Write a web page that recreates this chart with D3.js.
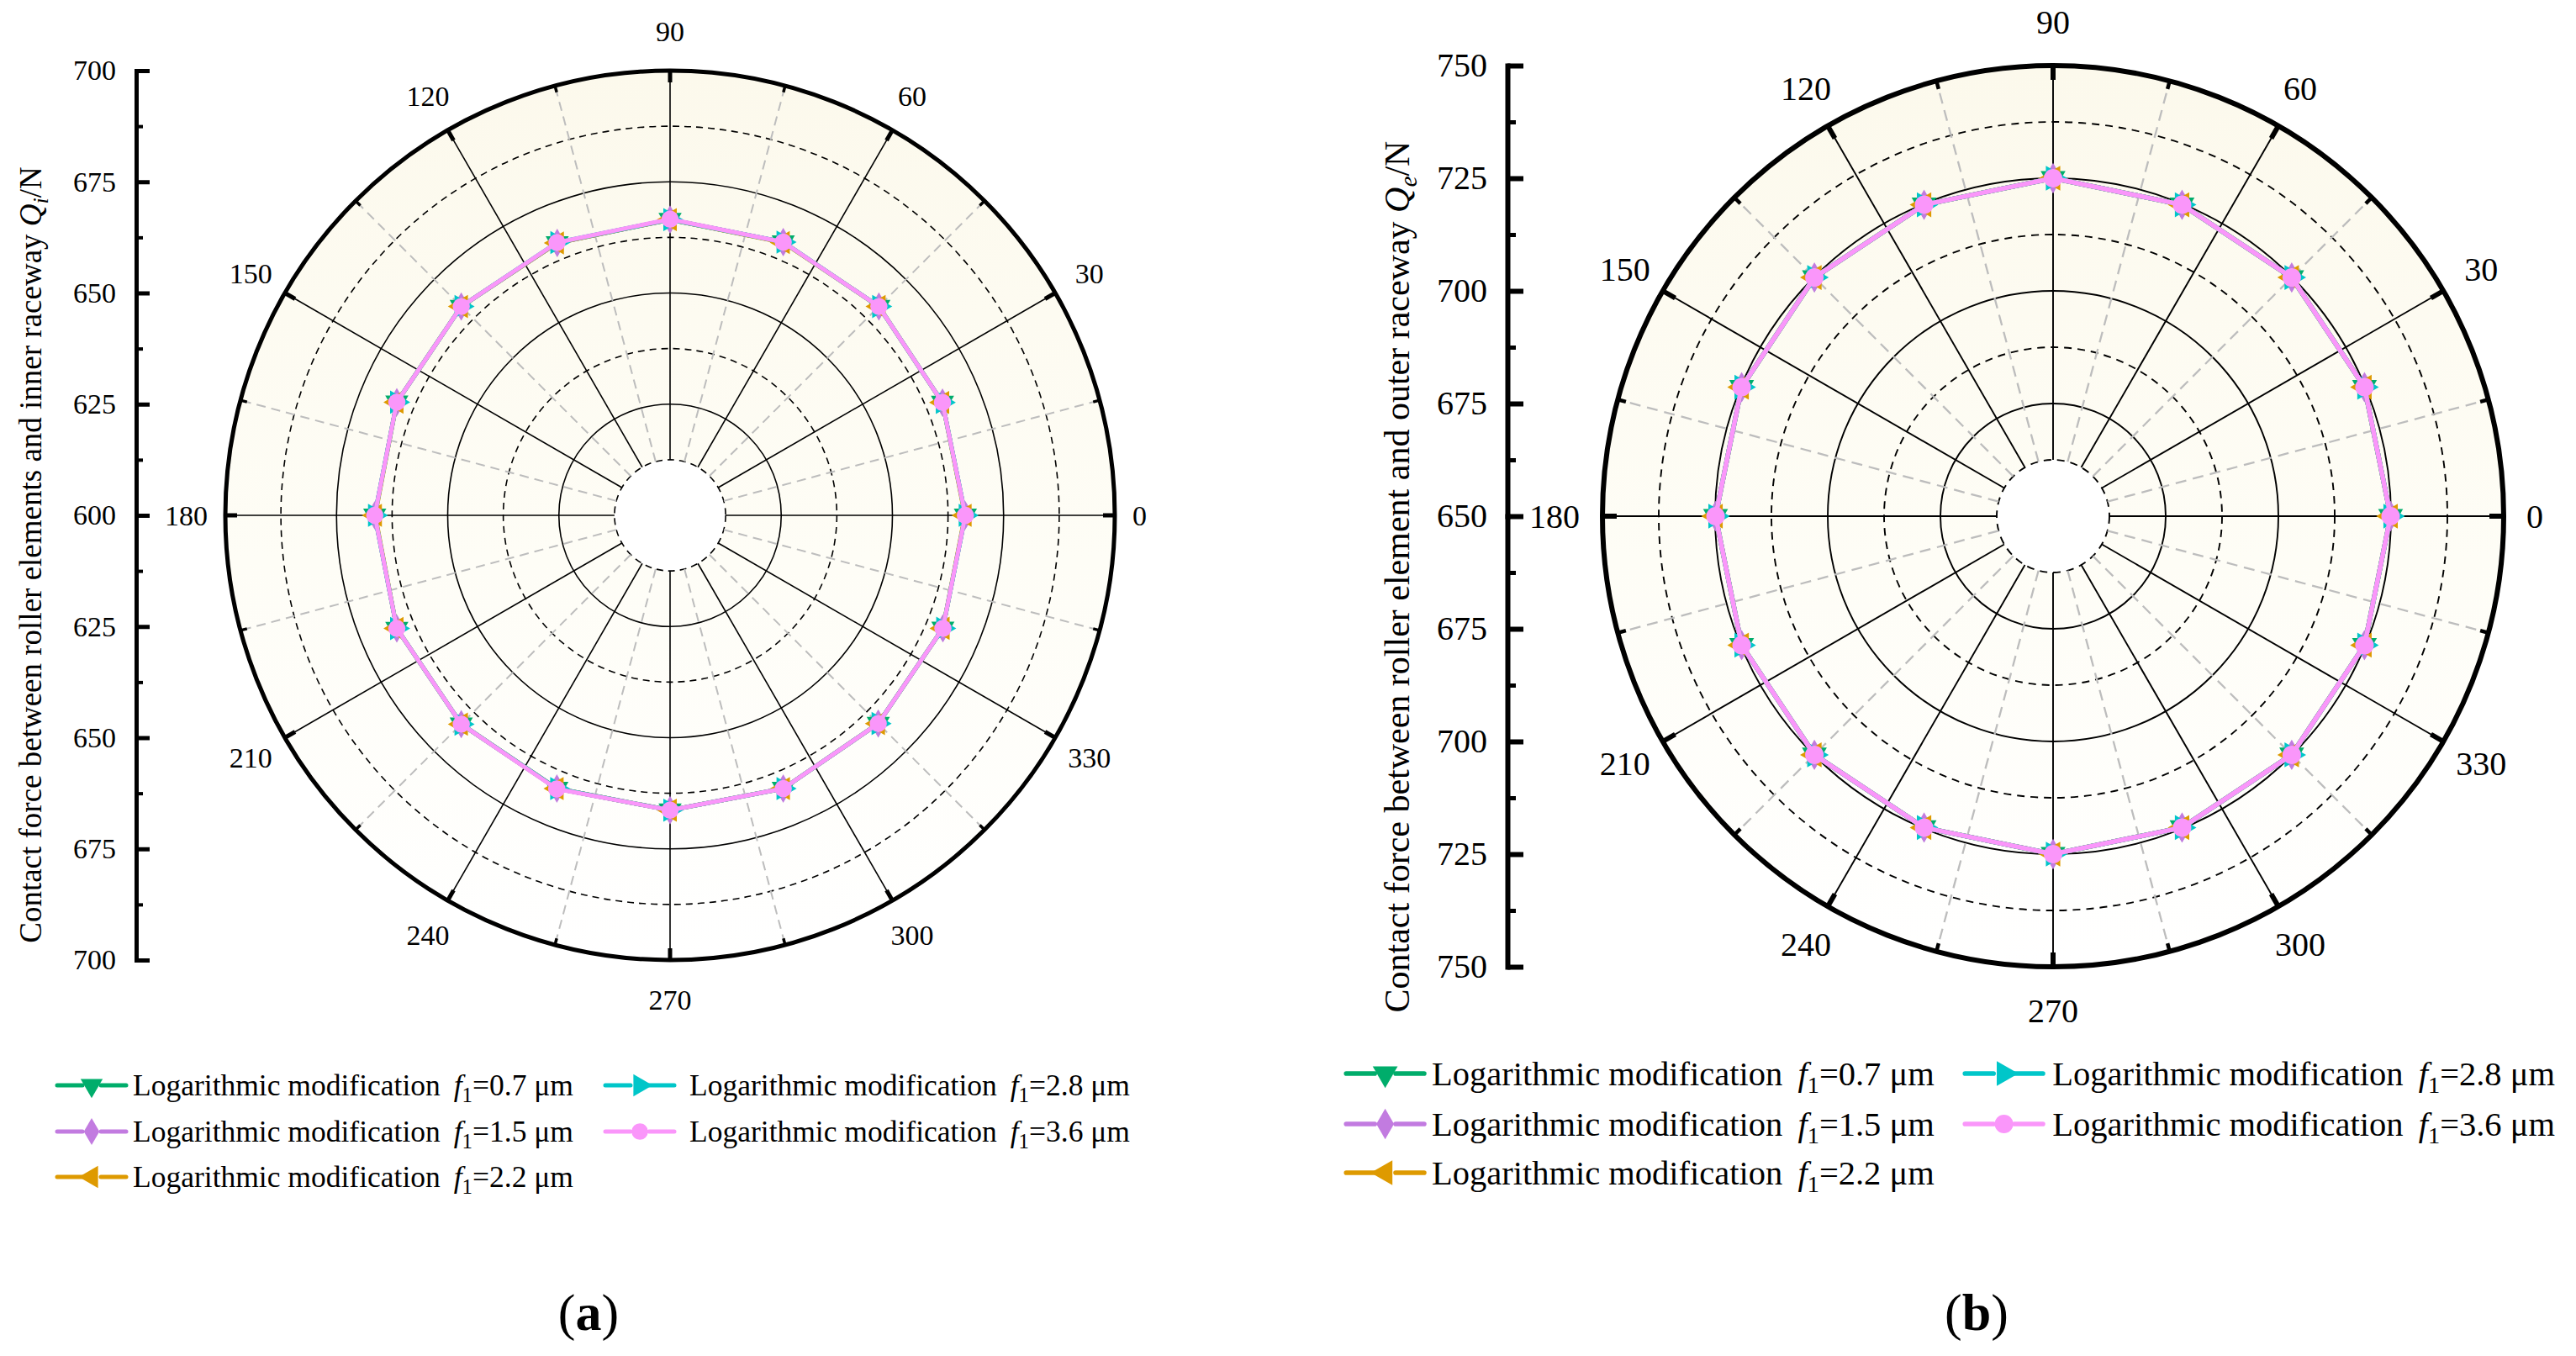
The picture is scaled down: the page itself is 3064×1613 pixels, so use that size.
<!DOCTYPE html>
<html>
<head>
<meta charset="utf-8">
<script src="https://cdn.jsdelivr.net/npm/d3@7"></script>
<style>
  body { margin: 0; background: #fff; }
  svg { display: block; }
  text { font-family: "Liberation Serif", "Times New Roman", serif; fill: #000; }
</style>
</head>
<body>
<div class="figure"></div>
<script>
// roller positions (deg) and polar axis labels
const angles = [0, 22.5, 45, 67.5, 90, 112.5, 135, 157.5, 180, 202.5, 225, 247.5, 270, 292.5, 315, 337.5];
const angleTicks = [0, 30, 60, 90, 120, 150, 180, 210, 240, 270, 300, 330];
const crownings = ['0.7', '1.5', '2.2', '2.8', '3.6'];
const innerTicks = [600, 625, 650, 675, 700];
const outerTicks = [650, 675, 700, 725, 750];

// (a) roller / inner raceway contact force, N
const innerF07 = [666.4, 666.3, 666.4, 666.5, 666.5, 666.3, 666.4, 666.5, 666.4, 666.5, 666.4, 666.5, 666.3, 666.5, 666.2, 666.4];
const innerF15 = [666.4, 666.3, 666.4, 666.5, 666.5, 666.3, 666.4, 666.5, 666.4, 666.5, 666.4, 666.5, 666.3, 666.5, 666.2, 666.4];
const innerF22 = [666.3, 666.3, 666.4, 666.4, 666.5, 666.3, 666.4, 666.5, 666.3, 666.5, 666.4, 666.5, 666.3, 666.5, 666.2, 666.4];
const innerF28 = [666.4, 666.3, 666.4, 666.5, 666.5, 666.4, 666.4, 666.5, 666.4, 666.5, 666.4, 666.5, 666.3, 666.5, 666.2, 666.4];
const innerF36 = [666.4, 666.3, 666.4, 666.5, 666.6, 666.4, 666.4, 666.5, 666.4, 666.5, 666.4, 666.6, 666.3, 666.5, 666.2, 666.4];

// (b) roller / outer raceway contact force, N
const outerF07 = [724.9, 724.8, 724.9, 724.8, 725.0, 724.8, 724.9, 724.8, 724.9, 724.8, 724.9, 724.8, 725.0, 724.8, 724.9, 724.8];
const outerF15 = [724.9, 724.8, 724.9, 724.8, 725.0, 724.8, 724.9, 724.8, 724.9, 724.8, 724.9, 724.8, 725.0, 724.8, 724.9, 724.8];
const outerF22 = [724.9, 724.8, 724.9, 724.8, 725.0, 724.8, 724.9, 724.8, 724.9, 724.8, 724.9, 724.8, 725.0, 724.8, 724.9, 724.8];
const outerF28 = [724.9, 724.8, 724.9, 724.8, 725.0, 724.8, 724.9, 724.8, 724.9, 724.8, 724.9, 724.8, 725.0, 724.8, 724.9, 724.8];
const outerF36 = [724.9, 724.8, 724.9, 724.8, 725.0, 724.8, 724.9, 724.8, 724.9, 724.8, 724.9, 724.8, 725.0, 724.8, 724.9, 724.8];

const colors = ['#00ad6b', '#c27be0', '#de9a00', '#00c6c9', '#fa96fa'];
const symbols = [
  { type: d3.symbolTriangle, rot: 180 },
  { type: d3.symbolDiamond, rot: 0 },
  { type: d3.symbolTriangle, rot: -90 },
  { type: d3.symbolTriangle, rot: 90 },
  { type: d3.symbolCircle, rot: 0 }
];

const W = 3064;
const H = 1613;

const svg = d3.select('.figure')
  .append('svg')
  .attr('width', W)
  .attr('height', H);

const defs = svg.append('defs');

function drawPolar(o) {
  const grad = defs.append('linearGradient')
    .attr('id', o.id + '-bg')
    .attr('x1', 0).attr('y1', 0).attr('x2', 0).attr('y2', 1);
  grad.append('stop').attr('offset', '0%').attr('stop-color', '#fcf9ec');
  grad.append('stop').attr('offset', '55%').attr('stop-color', '#fefdf6');
  grad.append('stop').attr('offset', '100%').attr('stop-color', '#ffffff');

  const r = d3.scaleLinear().domain(o.domain).range([0, o.R]);
  const a = d3.scaleLinear().domain([0, 360]).range([0, 2 * Math.PI]);
  const step = (o.domain[1] - o.domain[0]) / 8;
  const hole = r(o.domain[0] + step);
  const xy = (deg, rad) => [rad * Math.cos(a(deg)), -rad * Math.sin(a(deg))];

  const g = svg.append('g').attr('transform', `translate(${o.cx},${o.cy})`);

  g.append('path')
    .attr('d', d3.arc()({ innerRadius: hole, outerRadius: o.R, startAngle: 0, endAngle: 2 * Math.PI }))
    .attr('fill', `url(#${o.id}-bg)`);

  // grid circles: solid every 25 N, dashed in between
  const rings = d3.range(1, 8).map((k) => o.domain[0] + k * step);
  g.selectAll('.ring')
    .data(rings)
    .join('circle')
    .attr('r', (d) => r(d))
    .attr('fill', 'none')
    .attr('stroke', '#000')
    .attr('stroke-width', o.gridW)
    .attr('stroke-dasharray', (d, i) => (i % 2 === 0 ? o.dash : null));

  // spokes
  const spokes = d3.range(0, 360, 15);
  g.selectAll('.spoke')
    .data(spokes)
    .join('line')
    .attr('x1', (d) => xy(d, hole)[0])
    .attr('y1', (d) => xy(d, hole)[1])
    .attr('x2', (d) => xy(d, o.R)[0])
    .attr('y2', (d) => xy(d, o.R)[1])
    .attr('stroke', (d) => (d % 30 === 0 ? '#000' : '#bdbdbd'))
    .attr('stroke-width', (d) => (d % 30 === 0 ? o.gridW : o.gridW + 0.4))
    .attr('stroke-dasharray', (d) => (d % 30 === 0 ? null : o.grayDash));

  // outer ring and its ticks
  g.append('circle')
    .attr('r', o.R)
    .attr('fill', 'none')
    .attr('stroke', '#000')
    .attr('stroke-width', o.outerW);

  g.selectAll('.rtick')
    .data(spokes)
    .join('line')
    .attr('x1', (d) => xy(d, o.R - (d % 30 === 0 ? o.major - 2 : o.minor))[0])
    .attr('y1', (d) => xy(d, o.R - (d % 30 === 0 ? o.major - 2 : o.minor))[1])
    .attr('x2', (d) => xy(d, o.R)[0])
    .attr('y2', (d) => xy(d, o.R)[1])
    .attr('stroke', '#000')
    .attr('stroke-width', (d) => (d % 30 === 0 ? o.outerW : o.outerW - 1.5));

  // angle labels
  g.selectAll('.alabel')
    .data(angleTicks)
    .join('text')
    .attr('x', (d) => {
      if (d === 0) return o.R + o.gap;
      if (d === 180) return -o.R - o.gap;
      return xy(d, o.R + o.labelOff)[0];
    })
    .attr('y', (d) => xy(d, o.R + o.labelOff)[1] * (d === 0 || d === 180 ? 0 : 1))
    .attr('dy', '0.35em')
    .attr('text-anchor', (d) => (d === 0 ? 'start' : d === 180 ? 'end' : 'middle'))
    .attr('font-size', o.font)
    .text((d) => d);

  // series
  const line = d3.lineRadial()
    .angle((d) => Math.PI / 2 - a(d.angle))
    .radius((d) => r(d.value))
    .curve(d3.curveLinearClosed);

  o.series.forEach((values, i) => {
    const pts = angles.map((ang, j) => ({ angle: ang, value: values[j] }));
    g.append('path')
      .datum(pts)
      .attr('d', line)
      .attr('fill', 'none')
      .attr('stroke', colors[i])
      .attr('stroke-width', o.lineW)
      .attr('stroke-linejoin', 'round');
    g.selectAll('.m' + i)
      .data(pts)
      .join('path')
      .attr('transform', (d) => {
        const p = xy(d.angle, r(d.value));
        return `translate(${p[0]},${p[1]}) rotate(${symbols[i].rot})`;
      })
      .attr('d', d3.symbol().type(symbols[i].type).size(o.markerSize))
      .attr('fill', colors[i]);
  });

  // radial axis on the left, mirrored about the centre
  const up = d3.scaleLinear().domain(o.domain).range([o.cy, o.cy - o.R]);
  const down = d3.scaleLinear().domain(o.domain).range([o.cy, o.cy + o.R]);
  const minorVals = d3.range(0, 4).map((k) => o.ticks[k] + step);

  [[up, o.ticks], [down, o.ticks.slice(1)]].forEach(([sc, vals]) => {
    const ax = svg.append('g')
      .attr('transform', `translate(${o.axisX},0)`)
      .call(d3.axisLeft(sc)
        .tickValues(vals)
        .tickSizeInner(-o.major)
        .tickSizeOuter(0)
        .tickPadding(o.pad)
        .tickFormat(d3.format('d')));
    ax.attr('font-family', null).attr('font-size', o.font);
    ax.select('.domain').attr('stroke-width', o.axisW).attr('stroke-linecap', 'square');
    ax.selectAll('.tick line').attr('stroke-width', o.axisW);

    const mn = svg.append('g')
      .attr('transform', `translate(${o.axisX},0)`)
      .call(d3.axisLeft(sc)
        .tickValues(minorVals)
        .tickSizeInner(-o.minor)
        .tickSizeOuter(0)
        .tickFormat(''));
    mn.select('.domain').remove();
    mn.selectAll('.tick line').attr('stroke-width', o.axisW - 1);
  });

  // axis title
  const t = svg.append('text')
    .attr('transform', `translate(${o.titleX},${o.titleY}) rotate(-90)`)
    .attr('text-anchor', 'middle')
    .attr('font-size', o.titleFont);
  t.append('tspan').text(o.title + ' ');
  t.append('tspan').attr('font-style', 'italic').text('Q');
  t.append('tspan').attr('font-style', 'italic').attr('font-size', o.titleFont * 0.7).attr('dy', o.titleFont * 0.22).text(o.sub);
  t.append('tspan').attr('dy', -o.titleFont * 0.22).text('/N');
}

function drawLegend(o) {
  const k = o.scale;
  const slots = [
    [o.x0, o.rows[0]], [o.x0, o.rows[1]], [o.x0, o.rows[2]],
    [o.x1, o.rows[0]], [o.x1, o.rows[1]]
  ];
  crownings.forEach((c, i) => {
    const [x, y] = slots[i];
    const g = svg.append('g').attr('transform', `translate(${x},${y})`);
    g.append('line')
      .attr('x1', 2 * k).attr('x2', 32 * k).attr('y1', 0).attr('y2', 0)
      .attr('stroke', colors[i]).attr('stroke-width', 5 * k).attr('stroke-linecap', 'round');
    g.append('line')
      .attr('x1', 54 * k).attr('x2', 84 * k).attr('y1', 0).attr('y2', 0)
      .attr('stroke', colors[i]).attr('stroke-width', 5 * k).attr('stroke-linecap', 'round');
    g.append('path')
      .attr('transform', `translate(${43 * k},0) rotate(${symbols[i].rot})`)
      .attr('d', d3.symbol().type(symbols[i].type).size(300 * k * k))
      .attr('fill', colors[i]);
    const t = g.append('text')
      .attr('x', (i < 3 ? 92 : o.textOff2) * k)
      .attr('dy', '0.35em')
      .attr('font-size', o.font);
    t.append('tspan').text('Logarithmic modification');
    t.append('tspan').attr('dx', o.font * 0.45).attr('font-style', 'italic').text('f');
    t.append('tspan').attr('font-size', o.font * 0.7).attr('dy', o.font * 0.22).text('1');
    t.append('tspan').attr('dy', -o.font * 0.22).text(`=${c} μm`);
  });
}

drawPolar({
  id: 'inner', cx: 797, cy: 613, R: 529, domain: [600, 700], ticks: innerTicks,
  series: [innerF07, innerF15, innerF22, innerF28, innerF36],
  axisX: 162, font: 34, pad: 24, major: 16, minor: 8, axisW: 5, outerW: 5,
  gridW: 1.6, dash: '8,6', grayDash: '11,7', lineW: 5, markerSize: 330,
  labelOff: 47, gap: 21,
  title: 'Contact force between roller elements and inner raceway', sub: 'i',
  titleX: 49, titleY: 660, titleFont: 37
});

drawPolar({
  id: 'outer', cx: 2442, cy: 614, R: 536, domain: [650, 750], ticks: outerTicks,
  series: [outerF07, outerF15, outerF22, outerF28, outerF36],
  axisX: 1793, font: 40, pad: 24, major: 19, minor: 10, axisW: 6, outerW: 6,
  gridW: 1.9, dash: '9,7', grayDash: '13,8', lineW: 5.5, markerSize: 380,
  labelOff: 52, gap: 27,
  title: 'Contact force between roller element and outer raceway', sub: 'e',
  titleX: 1676, titleY: 686, titleFont: 42
});

drawLegend({ x0: 66, x1: 718, rows: [1291, 1346, 1400], font: 35.5, scale: 1, textOff2: 102 });
drawLegend({ x0: 1599, x1: 2335, rows: [1277, 1337, 1395], font: 40.5, scale: 1.13, textOff2: 94 });

// sub-figure captions
[['a', 700], ['b', 2351]].forEach(([s, x]) => {
  const t = svg.append('text')
    .attr('x', x)
    .attr('y', 1582)
    .attr('text-anchor', 'middle')
    .attr('font-size', 62);
  t.append('tspan').text('(');
  t.append('tspan').attr('font-weight', 'bold').text(s);
  t.append('tspan').text(')');
});
</script>
</body>
</html>
